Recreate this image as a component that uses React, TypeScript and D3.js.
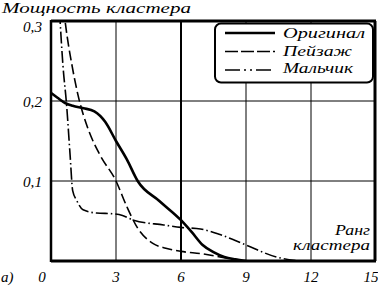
import React from "react";
import * as d3 from "d3";

const xTicks = [0, 3, 6, 9, 12, 15];
const xTickLabels = ["0", "3", "6", "9", "12", "15"];
const yTicks = [0.1, 0.2, 0.3];
const yTickLabels = ["0,1", "0,2", "0,3"];

const origX = [0, 0.3, 0.65, 1, 1.5, 2, 2.5, 3, 3.5, 4, 5, 6, 6.5, 7, 7.5, 8, 8.5, 9];
const origY = [0.21, 0.204, 0.1975, 0.194, 0.191, 0.187, 0.174, 0.15, 0.127, 0.1, 0.075, 0.051, 0.036, 0.02, 0.011, 0.005, 0.002, 0.0];

const landX = [0.45, 0.65, 1, 1.25, 1.7, 2.25, 3, 3.5, 4, 4.7, 5.3, 6, 7, 8, 9];
const landY = [0.35, 0.3, 0.24, 0.207, 0.166, 0.133, 0.1, 0.068, 0.041, 0.022, 0.016, 0.012, 0.009, 0.004, 0.0];

const boyX = [0.3, 0.42, 0.55, 0.72, 0.88, 1.0, 1.18, 1.48, 2.1, 2.9, 3.3, 3.8, 5.2, 6, 6.9, 7.8, 9, 10.4, 11.5];
const boyY = [0.36, 0.3, 0.245, 0.195, 0.133, 0.088, 0.076, 0.064, 0.06, 0.059, 0.057, 0.051, 0.045, 0.042, 0.04, 0.033, 0.02, 0.005, 0.0];

const seriesNames = ["Оригинал", "Пейзаж", "Мальчик"];
const legendTextWidths = [82, 69, 70];

const W = 378;
const H = 288;
const L = 51, R = 376, T = 21, B = 261;
const FONT = "Liberation Serif";

export default function App() {
  const x = d3.scaleLinear().domain([0, 15]).range([L, R]);
  const y = d3.scaleLinear().domain([0, 0.3]).range([B, T]);
  const line = d3
    .line<[number, number]>()
    .x((d) => x(d[0]))
    .y((d) => y(d[1]))
    .curve(d3.curveMonotoneX);
  const zip = (a: number[], b: number[]) => a.map((v, i) => [v, b[i]] as [number, number]);

  const series = [
    { name: seriesNames[0], pts: zip(origX, origY), w: 2.6, dash: undefined as string | undefined, ldash: undefined as string | undefined },
    { name: seriesNames[1], pts: zip(landX, landY), w: 1.6, dash: "10,4", ldash: "13,3" },
    { name: seriesNames[2], pts: zip(boyX, boyY), w: 1.6, dash: "12,3,1.5,3", ldash: "15,4,2,4,2,4" },
  ];

  const txt = { fontFamily: FONT, fontStyle: "italic" as const, fontSize: 15 };

  return (
    <div style={{ position: "fixed", left: 0, top: 0 }}>
      <svg width={W} height={H} style={{ display: "block", background: "#fff" }}>
        <defs>
          <clipPath id="plot">
            <rect x={L} y={T} width={R - L} height={B - T} />
          </clipPath>
        </defs>
        {/* grid */}
        {xTicks.slice(1, -1).map((t) => (
          <line key={"gx" + t} x1={x(t)} x2={x(t)} y1={T} y2={B} stroke="#000" strokeWidth={t === 6 ? 2 : 1} />
        ))}
        {yTicks.slice(0, -1).map((t) => (
          <line key={"gy" + t} x1={L} x2={R} y1={y(t)} y2={y(t)} stroke="#000" strokeWidth={1} />
        ))}
        {/* frame */}
        <line x1={L} x2={R} y1={T} y2={T} stroke="#000" strokeWidth={3} />
        <line x1={R - 1} x2={R - 1} y1={T} y2={B} stroke="#000" strokeWidth={3} />
        <line x1={L} x2={L} y1={T - 1} y2={B + 1} stroke="#000" strokeWidth={2.5} />
        <line x1={L} x2={R} y1={B} y2={B} stroke="#000" strokeWidth={3} />
        {/* curves */}
        <g clipPath="url(#plot)">
          {series.map((s) => (
            <path
              key={s.name}
              d={line(s.pts) || ""}
              fill="none"
              stroke="#000"
              strokeWidth={s.w}
              strokeDasharray={s.dash}
              strokeLinejoin="round"
            />
          ))}
        </g>
        {/* legend */}
        <rect x={215} y={23.5} width={158} height={59} rx={6} ry={6} fill="#fff" stroke="#000" strokeWidth={2} />
        {series.map((s, i) => (
          <g key={"lg" + s.name}>
            <line
              x1={225}
              x2={275}
              y1={33 + i * 18.5}
              y2={33 + i * 18.5}
              stroke="#000"
              strokeWidth={s.w}
              strokeDasharray={s.ldash}
            />
            <text
              x={283}
              y={38 + i * 17.5}
              {...txt}
              textLength={legendTextWidths[i]}
              lengthAdjust="spacingAndGlyphs"
            >
              {s.name}
            </text>
          </g>
        ))}
        {/* y axis title */}
        <text x={2} y={13} {...txt} textLength={189} lengthAdjust="spacingAndGlyphs">
          Мощность кластера
        </text>
        {/* y tick labels */}
        {yTicks.map((t, i) => (
          <text
            key={"yl" + t}
            x={42}
            y={t === 0.3 ? 32 : y(t) + 5.5}
            textAnchor="end"
            {...txt}
            textLength={19}
            lengthAdjust="spacingAndGlyphs"
          >
            {yTickLabels[i]}
          </text>
        ))}
        {/* x tick labels */}
        {xTicks.map((t, i) => (
          <text
            key={"xl" + t}
            x={x(t) + (t === 0 ? -9 : t === 15 ? -5 : 0)}
            y={282}
            textAnchor="middle"
            {...txt}
          >
            {xTickLabels[i]}
          </text>
        ))}
        <text x={1} y={282} {...txt}>
          а)
        </text>
        {/* x axis title */}
        <text x={335} y={235} {...txt} textLength={35} lengthAdjust="spacingAndGlyphs">
          Ранг
        </text>
        <text x={293} y={250} {...txt} textLength={77} lengthAdjust="spacingAndGlyphs">
          кластера
        </text>
      </svg>
    </div>
  );
}
